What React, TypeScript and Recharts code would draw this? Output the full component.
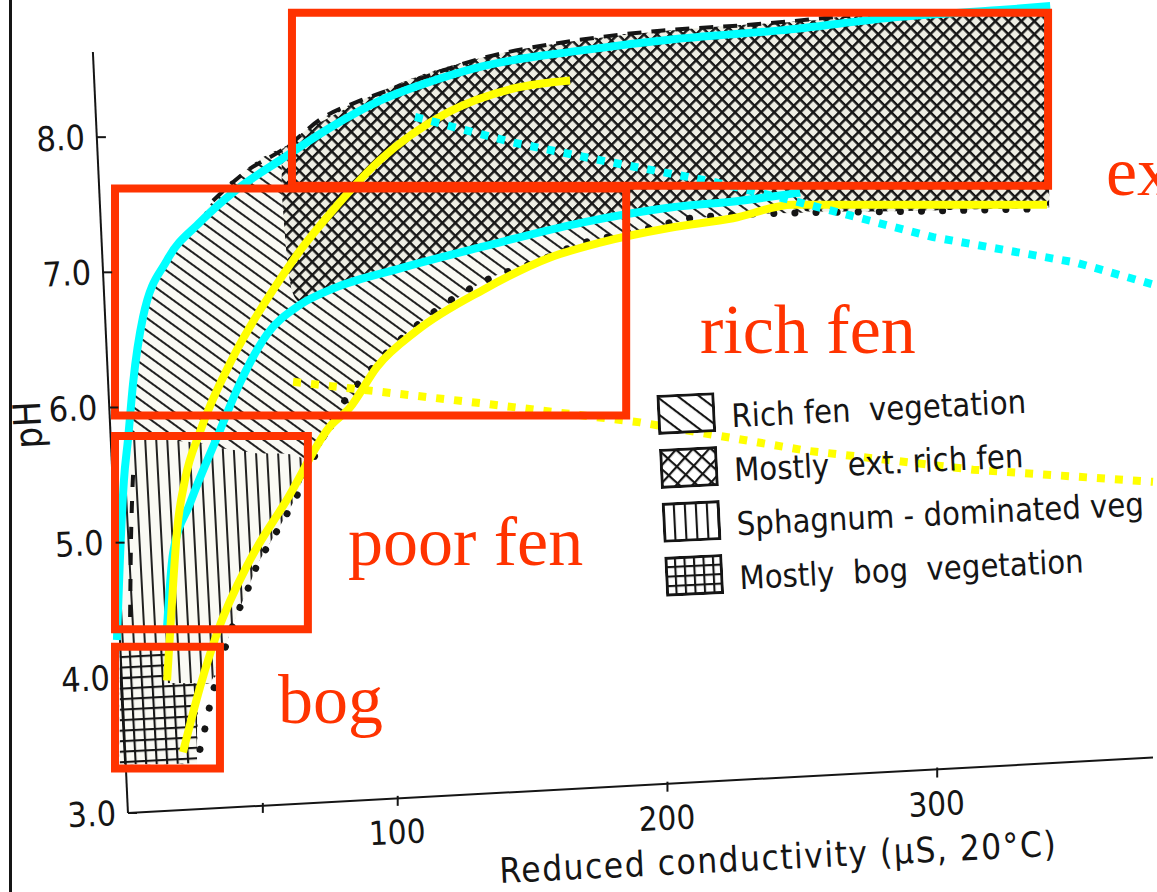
import React from 'react'
import { ComposedChart, Area, Line, XAxis, YAxis, ReferenceArea, ReferenceLine, Legend } from 'recharts'

// hatched vegetation zones, x = reduced conductivity, r = [low pH, high pH]
const richFenZone = [
    { x: -3, r: [3.36, 4.9] },
    { x: -1.5, r: [3.36, 5.45] },
    { x: 0, r: [3.36, 5.78] },
    { x: 1.9, r: [3.36, 6.12] },
    { x: 5.6, r: [3.36, 6.6] },
    { x: 10, r: [3.36, 6.88] },
    { x: 14.5, r: [3.36, 7.05] },
    { x: 20, r: [3.36, 7.22] },
    { x: 25.6, r: [3.37, 7.36] },
    { x: 26.2, r: [3.95, 7.38] },
    { x: 30.4, r: [3.96, 7.5] },
    { x: 34.1, r: [4.09, 7.6] },
    { x: 37.8, r: [4.33, 7.67] },
    { x: 43.4, r: [4.62, 7.75] },
    { x: 48.2, r: [4.85, 7.83] },
    { x: 52.7, r: [5.0, 7.88] },
    { x: 59, r: [5.25, 7.94] },
    { x: 65, r: [5.48, 8.04] },
    { x: 71.2, r: [5.7, 8.13] },
    { x: 80, r: [5.95, 8.22] },
    { x: 92.3, r: [6.33, 8.32] },
    { x: 107.2, r: [6.61, 8.45] },
    { x: 120, r: [6.78, 8.53] },
    { x: 131.6, r: [6.93, 8.59] },
    { x: 152.8, r: [7.09, 8.67] },
    { x: 167.6, r: [7.21, 8.72] },
    { x: 182.4, r: [7.28, 8.76] },
    { x: 198.4, r: [7.35, 8.79] },
    { x: 215, r: [7.41, 8.81] },
    { x: 230.6, r: [7.43, 8.83] },
    { x: 249.2, r: [7.44, 8.86] },
    { x: 267.7, r: [7.45, 8.9] },
    { x: 300, r: [7.46, 8.93] },
    { x: 341.5, r: [7.48, 8.96] }
]

const extRichFenZone = [
    { x: 57, r: [7.6, 7.91] },
    { x: 59, r: [7.1, 7.94] },
    { x: 61, r: [6.85, 7.98] },
    { x: 63.8, r: [6.78, 8.02] },
    { x: 76, r: [6.88, 8.16] },
    { x: 100.9, r: [7.03, 8.4] },
    { x: 131.6, r: [7.19, 8.59] },
    { x: 168.7, r: [7.37, 8.72] },
    { x: 201, r: [7.48, 8.79] },
    { x: 226.9, r: [7.53, 8.83] },
    { x: 245, r: [7.57, 8.85] },
    { x: 252, r: [7.45, 8.86] },
    { x: 267.7, r: [7.45, 8.9] },
    { x: 300, r: [7.46, 8.93] },
    { x: 341.5, r: [7.48, 8.96] }
]

const sphagnumZone = [
    { x: -3, r: [4.21, 4.9] },
    { x: -1.5, r: [4.21, 5.45] },
    { x: 0, r: [4.21, 5.76] },
    { x: 14, r: [4.21, 5.76] },
    { x: 14.3, r: [3.96, 5.76] },
    { x: 26.2, r: [3.96, 5.74] },
    { x: 30.4, r: [3.96, 5.72] },
    { x: 34.1, r: [4.09, 5.7] },
    { x: 37.8, r: [4.33, 5.69] },
    { x: 41.5, r: [4.52, 5.68] },
    { x: 44.5, r: [4.66, 5.67] },
    { x: 48.2, r: [4.85, 5.66] },
    { x: 52.7, r: [5.0, 5.66] },
    { x: 57.1, r: [5.15, 5.66] },
    { x: 61.9, r: [5.32, 5.65] },
    { x: 65, r: [5.48, 5.62] },
    { x: 67, r: [5.58, 5.6] }
]

const bogZone = [
    { x: -3, r: [3.36, 4.21] },
    { x: 14, r: [3.36, 4.21] },
    { x: 14.3, r: [3.36, 3.96] },
    { x: 25.6, r: [3.37, 3.96] }
]

// black boundaries of the original figure
const outerDashed = [
    { x: 31.5, y: 7.53 }, { x: 43.4, y: 7.74 }, { x: 59, y: 7.93 }, { x: 71.2, y: 8.13 },
    { x: 86, y: 8.27 }, { x: 97.1, y: 8.35 }, { x: 130.5, y: 8.58 }, { x: 167.6, y: 8.72 },
    { x: 198.4, y: 8.79 }, { x: 229.5, y: 8.83 }, { x: 267.7, y: 8.9 }
]
const leftDashed = [
    { x: 0.8, y: 4.45 }, { x: 1.0, y: 4.85 }, { x: 1.5, y: 5.3 }, { x: 2.2, y: 5.6 }
]
const lowerDotted = [
    { x: 26.7, y: 3.47 }, { x: 28.6, y: 3.63 }, { x: 30.4, y: 3.8 }, { x: 34.1, y: 4.09 },
    { x: 37.8, y: 4.33 }, { x: 41.5, y: 4.52 }, { x: 44.5, y: 4.66 }, { x: 48.2, y: 4.85 },
    { x: 52.7, y: 5.0 }, { x: 57.1, y: 5.15 }, { x: 61.9, y: 5.32 }, { x: 74.9, y: 5.88 },
    { x: 92.3, y: 6.33 }, { x: 107.2, y: 6.61 }, { x: 115.7, y: 6.74 }, { x: 131.6, y: 6.93 },
    { x: 152.8, y: 7.09 }, { x: 167.6, y: 7.21 }, { x: 182.4, y: 7.28 }, { x: 193.5, y: 7.33 },
    { x: 208.4, y: 7.4 }, { x: 230.6, y: 7.43 }, { x: 249.2, y: 7.44 }, { x: 286.2, y: 7.45 },
    { x: 338, y: 7.47 }
]

// coloured overlay lines
const cyanUpper = [
    { x: -4.1, y: 4.28 }, { x: -3, y: 4.87 }, { x: -1.5, y: 5.46 }, { x: 0, y: 5.76 },
    { x: 1.9, y: 6.18 }, { x: 5.6, y: 6.67 }, { x: 14.5, y: 7.09 }, { x: 26.7, y: 7.37 },
    { x: 38.9, y: 7.59 }, { x: 56.4, y: 7.83 }, { x: 74.9, y: 8.07 }, { x: 93.4, y: 8.27 },
    { x: 112, y: 8.41 }, { x: 130.5, y: 8.52 }, { x: 167.6, y: 8.64 }, { x: 204.7, y: 8.73 },
    { x: 241.8, y: 8.79 }, { x: 286.2, y: 8.89 }, { x: 323.3, y: 8.94 }, { x: 341.9, y: 8.97 }
]
const cyanLower = [
    { x: 14.5, y: 4.38 }, { x: 16.7, y: 4.92 }, { x: 23, y: 5.29 }, { x: 34.1, y: 5.83 },
    { x: 41.5, y: 6.18 }, { x: 51.5, y: 6.54 }, { x: 63.8, y: 6.76 }, { x: 76, y: 6.88 },
    { x: 100.9, y: 7.03 }, { x: 131.6, y: 7.19 }, { x: 168.7, y: 7.37 }, { x: 201, y: 7.48 },
    { x: 226.9, y: 7.53 }, { x: 249.2, y: 7.59 }
]
const yellowUpper = [
    { x: 14.5, y: 3.98 }, { x: 15.6, y: 4.33 }, { x: 18.2, y: 5.09 }, { x: 21.1, y: 5.46 },
    { x: 26.7, y: 5.82 }, { x: 38.9, y: 6.37 }, { x: 53.8, y: 6.87 }, { x: 63.8, y: 7.16 },
    { x: 76, y: 7.46 }, { x: 93.4, y: 7.83 }, { x: 118.3, y: 8.18 }, { x: 142.8, y: 8.36 },
    { x: 163.9, y: 8.42 }
]
const yellowLower = [
    { x: 20.4, y: 3.45 }, { x: 26.7, y: 3.93 }, { x: 33, y: 4.33 }, { x: 45.2, y: 4.87 },
    { x: 59, y: 5.32 }, { x: 74.9, y: 5.86 }, { x: 82.3, y: 6.0 }, { x: 92.3, y: 6.3 },
    { x: 107.2, y: 6.57 }, { x: 131.6, y: 6.87 }, { x: 156.5, y: 7.11 }, { x: 175, y: 7.22 },
    { x: 201, y: 7.33 }, { x: 224.3, y: 7.4 }, { x: 246.6, y: 7.5 }, { x: 340.7, y: 7.5 }
]
const cyanDotted = [
    { x: 106.4, y: 8.15 }, { x: 142.8, y: 7.96 }, { x: 175, y: 7.83 }, { x: 216.9, y: 7.67 },
    { x: 246.6, y: 7.53 }, { x: 298.5, y: 7.26 }, { x: 351.9, y: 7.07 }, { x: 380, y: 6.91 }
]
const yellowDotted = [
    { x: 61.2, y: 6.19 }, { x: 131.6, y: 6.03 }, { x: 189.8, y: 5.89 }, { x: 251.8, y: 5.68 },
    { x: 313.3, y: 5.54 }, { x: 380, y: 5.45 }
]

const phTicks = [3, 4, 5, 6, 7, 8]
const condTicks = [50, 100, 200, 300]

const legendItems = [
    { name: 'Rich fen  vegetation', fill: 'url(#legDiag)' },
    { name: 'Mostly  ext. rich fen', fill: 'url(#legCross)' },
    { name: 'Sphagnum - dominated veg', fill: 'url(#legVert)' },
    { name: 'Mostly  bog  vegetation', fill: 'url(#legGrid)' }
]

const RED = '#ff3300'
const CYAN = '#00ffff'
const YELLOW = '#ffff00'
const INK = '#151515'
const PAPER = '#fafaf4'
const penFamily = '"Liberation Sans Narrow", "DejaVu Sans Condensed", sans-serif'
const penFont = { fontFamily: penFamily, fill: INK }
const redFont = { fontFamily: '"Liberation Serif", serif', fontSize: 70, fill: RED }

const PhTick = (props: any) => {
    const { y, payload } = props
    const ax = 128 - (813 - y) * 0.046
    return (
        <g>
            <line x1={ax} y1={y} x2={ax + 9} y2={y} stroke={INK} strokeWidth={2} />
            <text x={ax - 12} y={y} textAnchor="end" dominantBaseline="central" fontSize={34}
                transform={`rotate(-2.8 ${ax - 12} ${y})`} style={penFont}>
                {Number(payload.value).toFixed(1)}
            </text>
        </g>
    )
}

const CondTick = (props: any) => {
    const { x, payload } = props
    const ay = 812 - (x - 128) * 0.0525
    return (
        <g>
            <line x1={x} y1={ay - 2} x2={x} y2={ay + 8} stroke={INK} strokeWidth={2} />
            {payload.value % 100 === 0 && (
                <text x={x} y={ay + 46} textAnchor="middle" fontSize={33}
                    transform={`rotate(-2.8 ${x} ${ay + 46})`} style={penFont}>
                    {payload.value}
                </text>
            )}
        </g>
    )
}

const LegendBox = () => (
    <div style={{ transform: 'rotate(-2.8deg)', transformOrigin: 'left top' }}>
        {legendItems.map((it) => (
            <div key={it.name} style={{ display: 'flex', alignItems: 'center', height: 54 }}>
                <svg width={58} height={40} style={{ flex: 'none' }}>
                    <rect x={1.5} y={1.5} width={55} height={37} fill={it.fill} stroke={INK} strokeWidth={3} />
                </svg>
                <span style={{
                    marginLeft: 16, fontSize: 32.5, letterSpacing: 0, whiteSpace: 'pre', color: INK,
                    position: 'relative', top: 5, fontFamily: penFamily
                }}>{it.name}</span>
            </div>
        ))}
    </div>
)

const Patterns = () => (
    <svg width={0} height={0} style={{ position: 'absolute' }}>
        <defs>
            <pattern id="diag" width={10} height={10} patternUnits="userSpaceOnUse" patternTransform="rotate(36)">
                <rect width={10} height={10} fill={PAPER} />
                <line x1={0} y1={1} x2={10} y2={1} stroke={INK} strokeWidth={1.9} />
            </pattern>
            <pattern id="cross" width={9.2} height={9.2} patternUnits="userSpaceOnUse" patternTransform="rotate(45)">
                <rect width={9.2} height={9.2} fill="#eeeee4" />
                <line x1={0} y1={1.2} x2={9.2} y2={1.2} stroke={INK} strokeWidth={2.5} />
                <line x1={1.2} y1={0} x2={1.2} y2={9.2} stroke={INK} strokeWidth={2.5} />
            </pattern>
            <pattern id="vert" width={11} height={11} patternUnits="userSpaceOnUse" patternTransform="rotate(-3)">
                <rect width={11} height={11} fill={PAPER} />
                <line x1={1} y1={0} x2={1} y2={11} stroke={INK} strokeWidth={1.9} />
            </pattern>
            <pattern id="grid" width={10.5} height={10.5} patternUnits="userSpaceOnUse" patternTransform="rotate(-3)">
                <rect width={10.5} height={10.5} fill={PAPER} />
                <line x1={0} y1={1} x2={10.5} y2={1} stroke={INK} strokeWidth={2.2} />
                <line x1={1} y1={0} x2={1} y2={10.5} stroke={INK} strokeWidth={2.2} />
            </pattern>
            <pattern id="legDiag" width={13} height={13} patternUnits="userSpaceOnUse" patternTransform="rotate(40)">
                <rect width={13} height={13} fill="#fff" />
                <line x1={0} y1={1} x2={13} y2={1} stroke={INK} strokeWidth={2.2} />
            </pattern>
            <pattern id="legCross" width={12} height={12} patternUnits="userSpaceOnUse" patternTransform="rotate(45)">
                <rect width={12} height={12} fill="#fff" />
                <line x1={0} y1={1} x2={12} y2={1} stroke={INK} strokeWidth={2.4} />
                <line x1={1} y1={0} x2={1} y2={12} stroke={INK} strokeWidth={2.4} />
            </pattern>
            <pattern id="legVert" width={11} height={11} patternUnits="userSpaceOnUse">
                <rect width={11} height={11} fill="#fff" />
                <line x1={1} y1={0} x2={1} y2={11} stroke={INK} strokeWidth={2.2} />
            </pattern>
            <pattern id="legGrid" width={9.5} height={9.5} patternUnits="userSpaceOnUse">
                <rect width={9.5} height={9.5} fill="#fff" />
                <line x1={0} y1={1} x2={9.5} y2={1} stroke={INK} strokeWidth={2.2} />
                <line x1={1} y1={0} x2={1} y2={9.5} stroke={INK} strokeWidth={2.2} />
            </pattern>
        </defs>
    </svg>
)

const App = () => {
    return (
        <div style={{ position: 'absolute', left: 0, top: 0, width: 1157, height: 892, overflow: 'hidden', background: '#fff' }}>
            <Patterns />
            <div style={{ position: 'absolute', left: 9, top: 0, width: 3, height: 892, background: INK }} />
            <ComposedChart width={1157} height={892} margin={{ top: 2, right: 4, left: 27.5, bottom: 49 }}>
                <XAxis type="number" dataKey="x" domain={[-15, 380]} ticks={condTicks} axisLine={false}
                    tickLine={false} tickSize={0} tickMargin={0} height={30} tick={<CondTick />} />
                <YAxis type="number" domain={[3, 9]} ticks={phTicks} axisLine={false} tickLine={false}
                    tickSize={0} tickMargin={0} width={60} tick={<PhTick />} />

                <Area data={richFenZone} dataKey="r" name="Rich fen vegetation" type="monotone" stroke="none"
                    fill="url(#diag)" fillOpacity={1} isAnimationActive={false} />
                <Area data={sphagnumZone} dataKey="r" name="Sphagnum-dominated veg" type="linear" stroke="none"
                    fill="url(#vert)" fillOpacity={1} isAnimationActive={false} />
                <Area data={bogZone} dataKey="r" name="Mostly bog vegetation" type="linear" stroke="none"
                    fill="url(#grid)" fillOpacity={1} isAnimationActive={false} />
                <Area data={extRichFenZone} dataKey="r" name="Mostly ext. rich fen" type="monotone" stroke="none"
                    fill="url(#cross)" fillOpacity={1} isAnimationActive={false} />

                <ReferenceLine segment={[{ x: -13, y: 8.63 }, { x: 0, y: 3 }]} stroke={INK} strokeWidth={2} ifOverflow="visible" />
                <ReferenceLine segment={[{ x: 0, y: 3 }, { x: 380, y: 3.41 }]} stroke={INK} strokeWidth={2} ifOverflow="visible" />

                <Line data={outerDashed} dataKey="y" type="monotone" stroke={INK} strokeWidth={4}
                    strokeDasharray="14 10" dot={false} activeDot={false} isAnimationActive={false} />
                <Line data={leftDashed} dataKey="y" type="monotone" stroke={INK} strokeWidth={4}
                    strokeDasharray="12 14" dot={false} activeDot={false} isAnimationActive={false} />
                <Line data={lowerDotted} dataKey="y" type="monotone" stroke={INK} strokeWidth={7}
                    strokeLinecap="round" strokeDasharray="0.1 21" dot={false} activeDot={false} isAnimationActive={false} />

                <Line data={cyanUpper} dataKey="y" type="monotone" stroke={CYAN} strokeWidth={8}
                    dot={false} activeDot={false} isAnimationActive={false} />
                <Line data={cyanLower} dataKey="y" type="monotone" stroke={CYAN} strokeWidth={8}
                    dot={false} activeDot={false} isAnimationActive={false} />
                <Line data={yellowUpper} dataKey="y" type="monotone" stroke={YELLOW} strokeWidth={8}
                    dot={false} activeDot={false} isAnimationActive={false} />
                <Line data={yellowLower} dataKey="y" type="monotone" stroke={YELLOW} strokeWidth={8}
                    dot={false} activeDot={false} isAnimationActive={false} />
                <Line data={cyanDotted} dataKey="y" type="linear" stroke={CYAN} strokeWidth={8}
                    strokeDasharray="8 9" dot={false} activeDot={false} isAnimationActive={false} />
                <Line data={yellowDotted} dataKey="y" type="linear" stroke={YELLOW} strokeWidth={8}
                    strokeDasharray="8 10" dot={false} activeDot={false} isAnimationActive={false} />

                <ReferenceArea x1={60.8} x2={341.1} y1={7.64} y2={8.92} stroke={RED} strokeWidth={8}
                    fill="none" fillOpacity={0} ifOverflow="visible" zIndex={1500} />
                <ReferenceArea x1={-4.8} x2={184.7} y1={5.94} y2={7.62} stroke={RED} strokeWidth={8}
                    fill="none" fillOpacity={0} ifOverflow="visible" zIndex={1500} />
                <ReferenceArea x1={-4.8} x2={66.7} y1={4.36} y2={5.79} stroke={RED} strokeWidth={8}
                    fill="none" fillOpacity={0} ifOverflow="visible" zIndex={1500} />
                <ReferenceArea x1={-4.8} x2={34.1} y1={3.33} y2={4.23} stroke={RED} strokeWidth={8}
                    fill="none" fillOpacity={0} ifOverflow="visible" zIndex={1500} />

                <Legend layout="vertical" align="center" verticalAlign="middle" content={<LegendBox />}
                    wrapperStyle={{ left: 656, top: 388, width: 500 }} />

                <text x={1106} y={195} style={redFont}>ext. rich fen</text>
                <text x={700} y={353} style={redFont}>rich fen</text>
                <text x={348} y={565} style={redFont}>poor fen</text>
                <text x={278} y={723} style={redFont}>bog</text>
                <text x={28} y={425} textAnchor="middle" dominantBaseline="central" fontSize={38}
                    transform="rotate(-92.8 28 425)" style={penFont}>pH</text>
                <text x={500} y={883} fontSize={35} letterSpacing={1.5}
                    transform="rotate(-2.8 500 883)" style={penFont}>Reduced  conductivity  (μS, 20°C)</text>
            </ComposedChart>
        </div>
    )
}

export default App
